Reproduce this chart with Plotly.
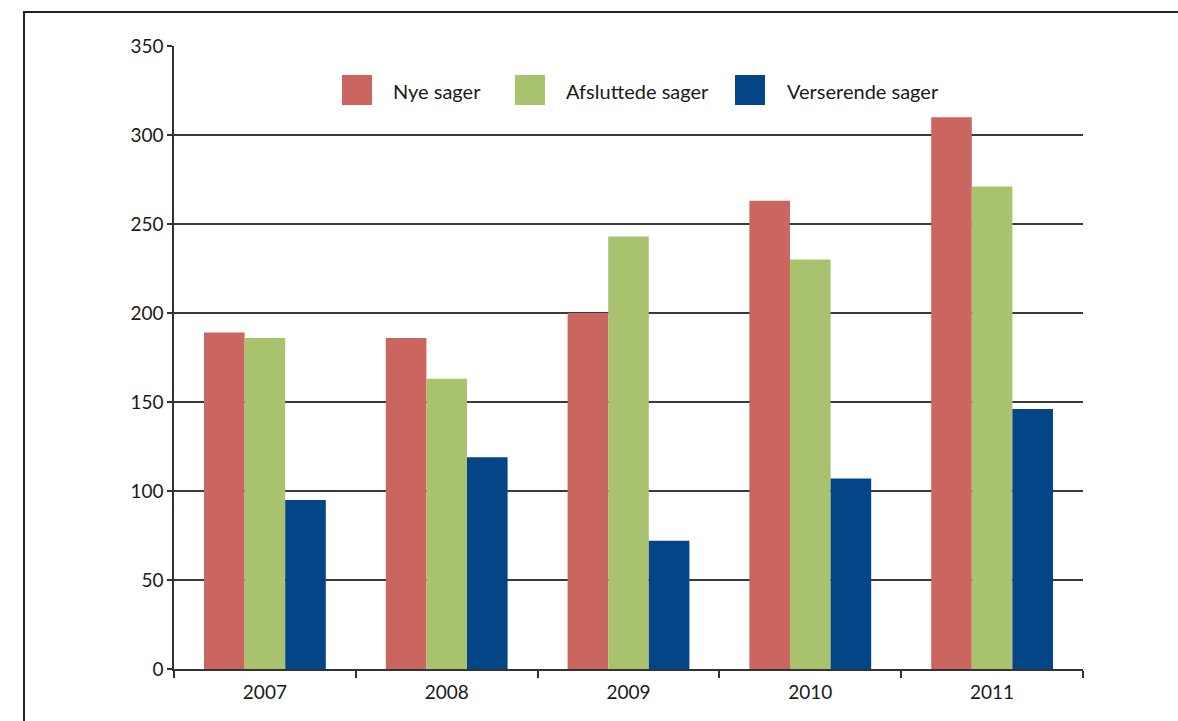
import plotly.graph_objects as go

years = ["2007", "2008", "2009", "2010", "2011"]
nye_sager = [189, 186, 200, 263, 310]
afsluttede_sager = [186, 163, 243, 230, 271]
verserende_sager = [95, 119, 72, 107, 146]

series_names = ["Nye sager", "Afsluttede sager", "Verserende sager"]
series_colors = ["#CB6560", "#A9C26E", "#044587"]
y_ticks = [0, 50, 100, 150, 200, 250, 300, 350]

FONT = "Lato, 'Noto Sans', sans-serif"

# plot-area geometry (pixels) used to place the legend in paper coordinates
L, R, T, B = 174, 95, 46, 52
W, H = 1178, 721
PW, PH = W - L - R, H - T - B

def px(xp):
    return (xp - L) / PW

def py(yp):
    return (H - B - yp) / PH

fig = go.Figure()
for name, vals, col in zip(series_names, [nye_sager, afsluttede_sager, verserende_sager], series_colors):
    fig.add_trace(go.Bar(x=years, y=vals, name=name, showlegend=False,
                         marker=dict(color=col, line=dict(width=0))))

fig.update_layout(
    width=W, height=H,
    margin=dict(l=L, r=R, t=T, b=B),
    paper_bgcolor="white", plot_bgcolor="white",
    barmode="group", bargap=0.33, bargroupgap=0,
    font=dict(family=FONT, size=19, color="#1a1a1a"),
    showlegend=False,
    xaxis=dict(type="category", tickson="boundaries", ticks="outside", ticklen=7,
               tickcolor="#333", tickwidth=1.5, showline=True, linecolor="#333", linewidth=1.5,
               showgrid=False, range=[-0.5, 4.5], tickfont=dict(size=19),
               ticklabelstandoff=5),
    yaxis=dict(range=[0, 350], tickvals=y_ticks, ticks="outside", ticklen=5,
               tickcolor="#333", tickwidth=1.5, showline=True, linecolor="#333", linewidth=1.5,
               showgrid=True, gridcolor="#3a3a3a", gridwidth=1.5, zeroline=False,
               tickfont=dict(size=19)),
)

# legend (swatches + labels)
swatch_left = [342, 515, 735]
text_left = [391, 564, 785]
for name, col, sx, tx in zip(series_names, series_colors, swatch_left, text_left):
    fig.add_shape(type="rect", xref="paper", yref="paper",
                  x0=px(sx), x1=px(sx + 30), y0=py(105), y1=py(75),
                  fillcolor=col, line=dict(width=0))
    fig.add_annotation(xref="paper", yref="paper", x=px(tx), y=py(91),
                       xanchor="left", yanchor="middle", showarrow=False,
                       text=name, font=dict(family=FONT, size=20, color="#1a1a1a"))

# outer frame (left and top edges)
fig.add_shape(type="path", xref="paper", yref="paper",
              path=f"M {px(24)},{py(760)} L {px(24)},{py(12)} L {px(1200)},{py(12)}",
              line=dict(color="#222", width=2))

fig.write_html("out.html")
